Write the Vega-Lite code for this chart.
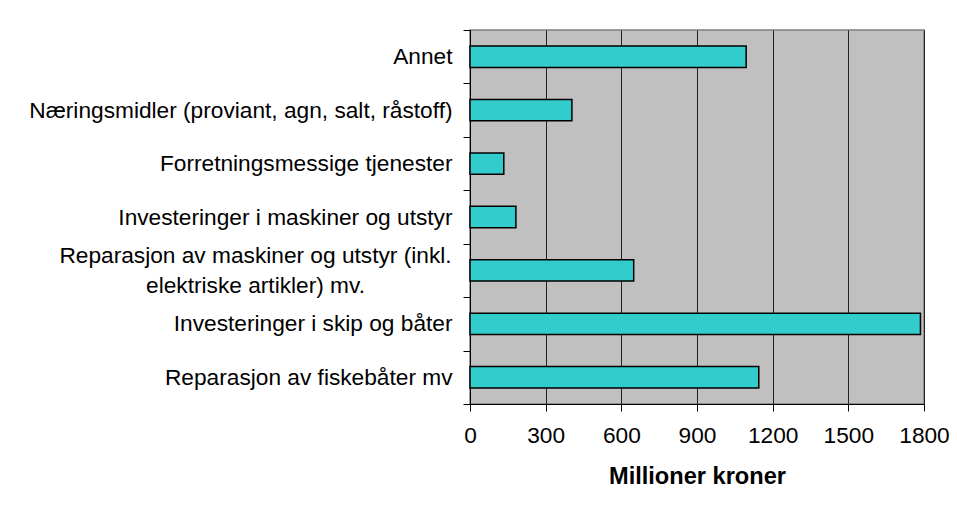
{
  "$schema": "https://vega.github.io/schema/vega-lite/v6.json",
  "width": 454,
  "height": 374,
  "autosize": "none",
  "padding": {"left": 470, "top": 30, "right": 33, "bottom": 106},
  "background": "white",
  "data": {
    "values": [
      {"kategori": "Annet", "verdi": 1095},
      {"kategori": "Næringsmidler (proviant, agn, salt, råstoff)", "verdi": 404},
      {"kategori": "Forretningsmessige tjenester", "verdi": 134},
      {"kategori": "Investeringer i maskiner og utstyr", "verdi": 182},
      {"kategori": "Reparasjon av maskiner og utstyr (inkl. elektriske artikler) mv.", "verdi": 649},
      {"kategori": "Investeringer i skip og båter", "verdi": 1786},
      {"kategori": "Reparasjon av fiskebåter mv", "verdi": 1145}
    ]
  },
  "mark": {"type": "bar", "fill": "#33cccc", "stroke": "#000000", "strokeWidth": 1.5, "height": {"band": 0.4}},
  "encoding": {
    "y": {
      "field": "kategori",
      "type": "nominal",
      "sort": null,
      "scale": {"paddingInner": 0, "paddingOuter": 0},
      "axis": {
        "title": null,
        "domainColor": "#000000",
        "domainWidth": 1,
        "tickColor": "#000000",
        "tickSize": 7,
        "tickBand": "extent",
        "labelFont": "Liberation Sans",
        "labelFontSize": 22.7,
        "labelColor": "#000000",
        "labelLimit": 0,
        "labelLineHeight": 30,
        "labelExpr": "datum.label == 'Reparasjon av maskiner og utstyr (inkl. elektriske artikler) mv.' ? ['Reparasjon av maskiner og utstyr (inkl.', 'elektriske artikler) mv.'] : datum.label",
        "labelAlign": {"condition": {"test": "datum.value == 'Reparasjon av maskiner og utstyr (inkl. elektriske artikler) mv.'", "value": "center"}, "value": "right"},
        "labelPadding": {"condition": {"test": "datum.value == 'Reparasjon av maskiner og utstyr (inkl. elektriske artikler) mv.'", "value": 208}, "value": 11},
        "labelOffset": {"condition": {"test": "datum.value == 'Reparasjon av maskiner og utstyr (inkl. elektriske artikler) mv.'", "value": -15}, "value": 0}
      }
    },
    "x": {
      "field": "verdi",
      "type": "quantitative",
      "scale": {"domain": [0, 1800], "nice": false},
      "axis": {
        "values": [0, 300, 600, 900, 1200, 1500, 1800],
        "format": "d",
        "title": "Millioner kroner",
        "titleFont": "Liberation Sans",
        "titleFontSize": 23.6,
        "titleFontWeight": "bold",
        "titleColor": "#000000",
        "titlePadding": 18,
        "grid": true,
        "gridColor": "#222222",
        "gridWidth": 1,
        "domainColor": "#000000",
        "domainWidth": 1,
        "tickColor": "#000000",
        "tickSize": 7,
        "labelFont": "Liberation Sans",
        "labelFontSize": 22.7,
        "labelColor": "#000000",
        "labelPadding": 13,
        "labelFlush": false
      }
    }
  },
  "config": {
    "view": {"fill": "#c0c0c0", "stroke": "#808080", "strokeWidth": 1.5},
    "font": "Liberation Sans"
  }
}
